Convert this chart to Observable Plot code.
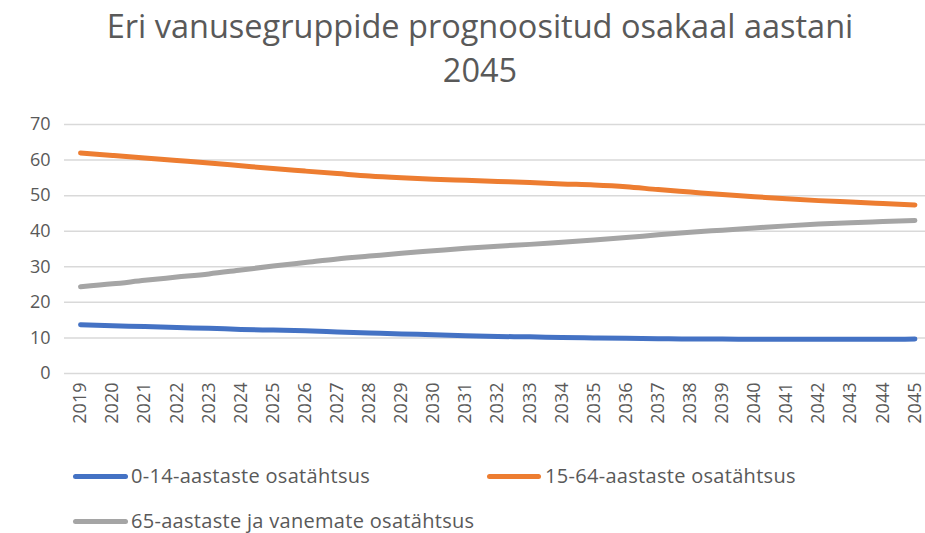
<!DOCTYPE html>
<html>
<head>
<meta charset="utf-8">
<script src="https://cdn.jsdelivr.net/npm/d3@7"></script>
<script src="https://cdn.jsdelivr.net/npm/@observablehq/plot@0.6"></script>
<style>
  html, body { margin: 0; padding: 0; background: #fff; }
  #wrap { position: relative; width: 925px; height: 533px; overflow: hidden; font-family: "Open Sans", sans-serif; color: #595959; }
  #title { position: absolute; left: 0; top: 4px; width: 960px; text-align: center; font-size: 32.5px; line-height: 44px; color: #595959; }
  #chart { position: absolute; left: 0; top: 110px; }
  #chart svg { overflow: visible; }
  .leg { position: absolute; font-size: 20px; letter-spacing: 0.3px; color: #595959; white-space: nowrap; }
  .sw { position: absolute; height: 5px; border-radius: 3px; }
</style>
</head>
<body>
<div id="wrap">
  <div id="title">Eri vanusegruppide prognoositud osakaal aastani<br>2045</div>
  <div id="chart"></div>
  <div id="legend"></div>
</div>
<script>
const years = [2019,2020,2021,2022,2023,2024,2025,2026,2027,2028,2029,2030,2031,2032,2033,2034,2035,2036,2037,2038,2039,2040,2041,2042,2043,2044,2045];
const yTicks = [0,10,20,30,40,50,60,70];
const seriesNames = ["0-14-aastaste osatähtsus","15-64-aastaste osatähtsus","65-aastaste ja vanemate osatähtsus"];
const seriesColors = ["#4472C4","#ED7D31","#A5A5A5"];
const age0to14 = [13.7,13.4,13.2,12.9,12.7,12.4,12.2,12.0,11.7,11.4,11.1,10.9,10.6,10.4,10.3,10.1,10.0,9.9,9.8,9.7,9.7,9.6,9.6,9.6,9.6,9.6,9.7];
const age15to64 = [62.0,61.3,60.6,59.9,59.2,58.4,57.6,56.9,56.2,55.5,55.0,54.6,54.3,54.0,53.7,53.3,53.0,52.5,51.7,51.0,50.3,49.7,49.1,48.6,48.2,47.8,47.4];
const age65plus = [24.4,25.2,26.2,27.1,28.0,29.1,30.2,31.2,32.2,33.0,33.8,34.5,35.2,35.8,36.3,36.9,37.5,38.2,39.0,39.7,40.3,40.9,41.5,42.0,42.4,42.7,43.0];

const allSeries = [age0to14, age15to64, age65plus];
const rows = [];
allSeries.forEach((vals, si) => vals.forEach((v, i) => rows.push({year: years[i], value: v, series: seriesNames[si]})));

const chart = Plot.plot({
  width: 925,
  height: 323,
  marginLeft: 64,
  marginRight: 0,
  marginTop: 14,
  marginBottom: 60,
  style: {fontFamily: "Open Sans, sans-serif", color: "#595959", background: "transparent", overflow: "visible"},
  x: {type: "linear", domain: [2018.5, 2045.33]},
  y: {domain: [0, 70]},
  color: {domain: seriesNames, range: seriesColors},
  marks: [
    Plot.ruleY(yTicks, {stroke: "#d9d9d9", strokeWidth: 1.5}),
    Plot.axisY({ticks: yTicks, tickSize: 0, tickPadding: 14, fontSize: 18, fill: "#595959", label: null}),
    Plot.axisX({ticks: years, tickFormat: d => String(d), tickRotate: -90, tickSize: 0, tickPadding: 9, fontSize: 18, fill: "#595959", label: null, style: {letterSpacing: "2px"}}),
    Plot.line(rows, {x: "year", y: "value", z: "series", stroke: "series", strokeWidth: 5, strokeLinecap: "round", strokeLinejoin: "round", curve: "monotone-x"})
  ]
});
document.getElementById("chart").appendChild(chart);

const legendPos = [{x: 73, y: 476, w: 55, tx: 131}, {x: 487, y: 476, w: 54, tx: 545}, {x: 73, y: 521, w: 55, tx: 131}];
const leg = document.getElementById("legend");
seriesNames.forEach((name, i) => {
  const p = legendPos[i];
  const sw = document.createElement("div");
  sw.className = "sw";
  sw.style.left = p.x + "px"; sw.style.top = (p.y - 2.5) + "px"; sw.style.width = p.w + "px";
  sw.style.background = seriesColors[i];
  leg.appendChild(sw);
  const t = document.createElement("div");
  t.className = "leg";
  t.style.left = p.tx + "px"; t.style.top = (p.y - 14) + "px";
  t.textContent = name;
  leg.appendChild(t);
});
</script>
</body>
</html>
